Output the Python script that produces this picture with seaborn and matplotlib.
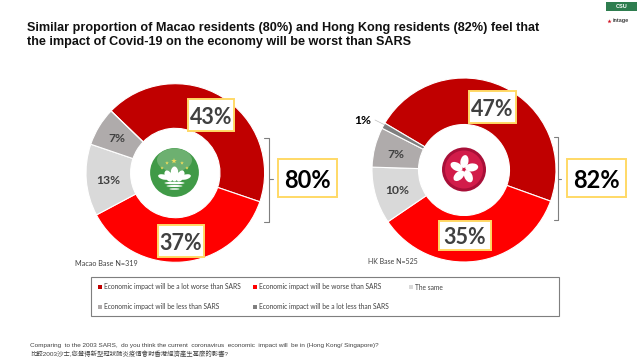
import matplotlib
matplotlib.use("Agg")
import matplotlib.pyplot as plt
import numpy as np
import seaborn as sns
from matplotlib.patches import Circle, Ellipse, Rectangle

# values
categories = [
    "Economic impact will be a lot worse than SARS",
    "Economic impact will be worse than SARS",
    "The same",
    "Economic impact will be less than SARS",
    "Economic impact will be a lot less than SARS",
]
macao_values = [43, 37, 13, 7, 0]
hk_values = [47, 35, 10, 7, 1]
macao_total = 80
hk_total = 82
title_lines = [
    "Similar proportion of Macao residents (80%) and Hong Kong residents (82%) feel that",
    "the impact of Covid-19 on the economy will be worst than SARS",
]
footnote_en = "Comparing  to the 2003 SARS,  do you think the current  coronavirus  economic  impact will  be in (Hong Kong/ Singapore)?"
footnote_zh = "比較2003沙士,您覺得新型冠狀肺炎疫情會對香港經濟產生甚麼的影響?"

sns.set_theme(style="white")
plt.rcParams["font.family"] = ["Liberation Sans", "Noto Sans CJK TC", "DejaVu Sans"]
palette = sns.color_palette(["#C00000", "#FF0000", "#D9D9D9", "#AFABAB", "#7F7F7F"])
BOX = "#FFD966"
LABEL = "#404040"

fig = plt.figure(figsize=(6.4, 3.6), dpi=100)
ax = fig.add_axes([0, 0, 1, 1])
ax.set_xlim(0, 640)
ax.set_ylim(360, 0)
ax.axis("off")


def donut(values, cx, cy, r, inner, start):
    a = fig.add_axes([(cx - r) / 640, 1 - (cy + r) / 360, 2 * r / 640, 2 * r / 360])
    a.pie(
        values,
        colors=palette,
        startangle=start,
        counterclock=False,
        radius=1,
        wedgeprops=dict(width=1 - inner / r, edgecolor="white", linewidth=0.8),
    )
    a.set_xlim(-1, 1)
    a.set_ylim(-1, 1)
    a.set_zorder(0)


ax.set_zorder(2)
ax.patch.set_alpha(0)
donut(macao_values, 175.3, 173, 89.3, 44.7, 136)
donut(hk_values, 464, 170, 92, 45.5, 149.4)


def boxed(value, x0, y0, x1, y1, color, size):
    ax.add_patch(Rectangle((x0, y0), x1 - x0, y1 - y0, fc="white", ec=BOX, lw=1.4))
    ax.text((x0 + x1) / 2, (y0 + y1) / 2, f"{value}%", ha="center", va="center_baseline",
            family="Lato", weight="bold", fontsize=size, color=color)


boxed(macao_values[0], 188, 99, 234, 131, LABEL, 15.5)
boxed(macao_values[1], 158, 225, 204, 257, LABEL, 15.5)
boxed(macao_total, 278, 159, 337, 197, "black", 17)
boxed(hk_values[0], 469, 91, 516, 123, LABEL, 15.5)
boxed(hk_values[1], 439, 221, 491, 250, LABEL, 15.5)
boxed(hk_total, 567, 159, 626, 197, "black", 17)

small = dict(ha="center", va="center_baseline", family="Lato", weight="bold", fontsize=8.7, color=LABEL)
ax.text(108, 179, f"{macao_values[2]}%", **small)
ax.text(117, 138, f"{macao_values[3]}%", **small)
ax.text(397, 190, f"{hk_values[2]}%", **small)
ax.text(396, 154, f"{hk_values[3]}%", **small)
ax.text(363, 119, f"{hk_values[4]}%", ha="center", va="center_baseline", family="Lato",
        weight="bold", fontsize=8.7, color="black")
ax.plot([375, 385], [120, 125], color="#BFBFBF", lw=0.5)

# brackets next to the rings
for x0, x1, x2, y0, y1, ym in [(264, 269, 273, 138, 222, 179), (554, 558, 561, 137, 220, 179)]:
    ax.plot([x0, x1, x1, x0], [y0, y0, y1, y1], color="#7F7F7F", lw=0.8)
    ax.plot([x1, x2], [ym, ym], color="#7F7F7F", lw=0.8)

# Macao flag
ax.add_patch(Circle((174.5, 172.5), 24.4, fc="#409A47", ec="none"))
ax.add_patch(Ellipse((174.5, 160), 35, 23, fc="#6DB070", ec="none"))
ax.scatter([174, 167, 182, 162, 187], [161, 163, 163, 168, 168], marker="*",
           s=[18, 8, 8, 7, 7], color="#F2DC5D", linewidths=0)
ax.add_patch(Ellipse((174.5, 174), 8, 15, fc="white", ec="none"))
ax.add_patch(Ellipse((168.5, 176), 7, 12, angle=-25, fc="white", ec="none"))
ax.add_patch(Ellipse((180.5, 176), 7, 12, angle=25, fc="white", ec="none"))
ax.add_patch(Ellipse((163.5, 177), 11, 5, angle=15, fc="white", ec="none"))
ax.add_patch(Ellipse((185.5, 177), 11, 5, angle=-15, fc="white", ec="none"))
ax.add_patch(Ellipse((174.5, 183), 20, 2.5, fc="white", ec="none"))
ax.add_patch(Ellipse((174.5, 186), 16, 2, fc="white", ec="none"))
ax.add_patch(Ellipse((174.5, 189), 10, 1.5, fc="white", ec="none"))

# Hong Kong flag
ax.add_patch(Circle((464, 169.5), 22, fc="#A80F38", ec="none"))
ax.add_patch(Circle((464, 169.5), 19, fc="#D21C4A", ec="none"))
for deg in np.arange(0, 360, 72):
    t = np.deg2rad(deg - 15)
    ax.add_patch(Ellipse((464 + 8 * np.cos(t), 169.5 + 8 * np.sin(t)), 13, 8,
                         angle=deg - 7, fc="white", ec="none"))

ax.text(75, 263, "Macao Base N=319", fontsize=5.2, family="Lato", color="#404040", va="center")
ax.text(368, 261, "HK Base N=525", fontsize=5, family="Lato", color="#404040", va="center")

# legend frame and entries
ax.add_patch(Rectangle((91, 277), 468, 39, fc="white", ec="#7F7F7F", lw=0.8))
spots = [(100, 287), (255, 287), (411, 287), (100, 307), (255, 307)]
for (x, y), name, col in zip(spots, categories, palette):
    ax.scatter([x], [y], marker="s", s=6, color=[col], linewidths=0)
    ax.text(x + 4, y, name, fontsize=4.8, family="Lato", color="#404040", va="center")

for y, line in zip([27.5, 42.5], title_lines):
    ax.text(27, y, line, fontsize=9.05, weight="bold", color="#111111", va="center")

ax.text(30, 346, footnote_en, fontsize=4.6, color="#404040", va="center")
ax.text(30, 354, footnote_zh, fontsize=4.6, color="#404040", va="center")

# logos
ax.add_patch(Rectangle((606, 2), 31, 9, fc="#2E7D4F", ec="none"))
ax.text(622, 6.5, "CSU", fontsize=4, weight="bold", color="white", ha="center", va="center")
ax.text(613, 20.5, "intage", fontsize=4, weight="bold", color="#404040", va="center")
ax.scatter([609], [20.5], marker="*", s=10, color="#D01020", linewidths=0)

fig.savefig("out.png", dpi=100)
